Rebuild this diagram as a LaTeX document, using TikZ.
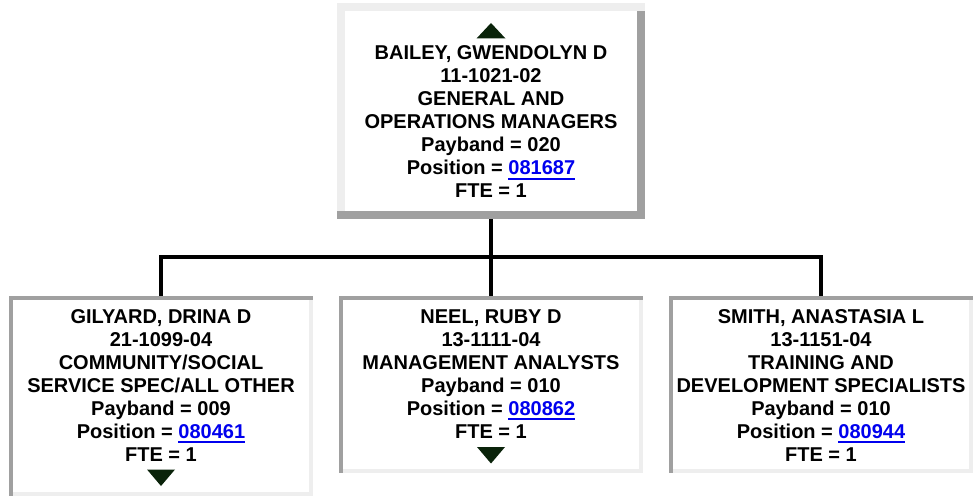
\documentclass[tikz,border=0pt]{standalone}
\usepackage{fontspec}
\setmainfont{Liberation Sans}
\usetikzlibrary{calc}
\definecolor{ltgr}{HTML}{EEEEEE}
\definecolor{dkgr}{HTML}{A0A0A0}
\definecolor{linkblue}{HTML}{0000EE}
\definecolor{tri}{HTML}{0A230A}
\newsavebox\lnkbox
\newcommand\lnk[1]{{\color{linkblue}\sbox\lnkbox{#1}\rlap{\rule[-4.6pt]{\wd\lnkbox}{2pt}}\usebox\lnkbox}}
\newcommand\outsetborder[2]{%
  \fill[ltgr] (#1.north west) rectangle ($(#1.north east)+(0,#2)$);
  \fill[ltgr] ($(#1.north west)+(0,#2)$) rectangle ($(#1.south west)+(#2,-#2)$);
  \fill[dkgr] ($(#1.north east)+(-#2,#2)$) rectangle (#1.south east);
  \fill[dkgr] ($(#1.south west)+(0,-#2)$) rectangle ($(#1.south east)+(-#2,0)$);
}
\newcommand\insetborder[2]{%
  \fill[dkgr] (#1.north west) rectangle ($(#1.north east)+(0,#2)$);
  \fill[dkgr] ($(#1.north west)+(0,#2)$) rectangle ($(#1.south west)+(#2,0)$);
  \fill[ltgr] ($(#1.north east)+(-#2,#2)$) rectangle (#1.south east);
  \fill[ltgr] ($(#1.south west)+(#2,-#2)$) rectangle ($(#1.south east)+(-#2,0)$);
}
\tikzset{
  pbox/.style={rectangle, inner sep=0pt, minimum width=#1},
  ptext/.style={anchor=north, inner sep=0pt, align=center,
    font=\fontsize{20}{23}\selectfont\bfseries},
  conn/.style={line width=4pt, black},
}
\begin{document}
\begin{tikzpicture}[x=1pt,y=-1pt]
\useasboundingbox (0,0) rectangle (973,497);
\fill[white] (0,0) rectangle (973,497);
% boxes
\node[pbox=308, minimum height=216] (bailey) at (491,111) {};
\node[pbox=304, minimum height=200] (gilyard) at (161,396) {};
\node[pbox=304, minimum height=177] (neel) at (491,384.5) {};
\node[pbox=304, minimum height=177] (smith) at (821,384.5) {};
\outsetborder{bailey}{8}
\insetborder{gilyard}{4}
\insetborder{neel}{4}
\insetborder{smith}{4}
% connectors
\draw[conn] (bailey.south) -- ++(0,38) coordinate (bus);
\draw[conn] (bus) -| (gilyard.north);
\draw[conn] (bus) -| (smith.north);
\draw[conn] (bus) -- (neel.north);
% texts
\node[ptext] (bailey-t) at (491,45.8) {BAILEY, GWENDOLYN D\\11-1021-02\\GENERAL AND\\OPERATIONS MANAGERS\\Payband = 020\\Position = \lnk{081687}\\FTE = 1};
\node[ptext] (gilyard-t) at (161,309.5) {GILYARD, DRINA D\\21-1099-04\\COMMUNITY/SOCIAL\\SERVICE SPEC/ALL OTHER\\Payband = 009\\Position = \lnk{080461}\\FTE = 1};
\node[ptext] (neel-t) at (491,309.5) {NEEL, RUBY D\\13-1111-04\\MANAGEMENT ANALYSTS\\Payband = 010\\Position = \lnk{080862}\\FTE = 1};
\node[ptext] (smith-t) at (821,309.5) {SMITH, ANASTASIA L\\13-1151-04\\TRAINING AND\\DEVELOPMENT SPECIALISTS\\Payband = 010\\Position = \lnk{080944}\\FTE = 1};
% triangles
\fill[tri] (476.5,38.5) -- (505.5,38.5) -- (491,23) -- cycle;
\fill[tri] (147,469.5) -- (175,469.5) -- (161,486) -- cycle;
\fill[tri] (477,447) -- (505,447) -- (491,463.5) -- cycle;
\end{tikzpicture}
\end{document}
